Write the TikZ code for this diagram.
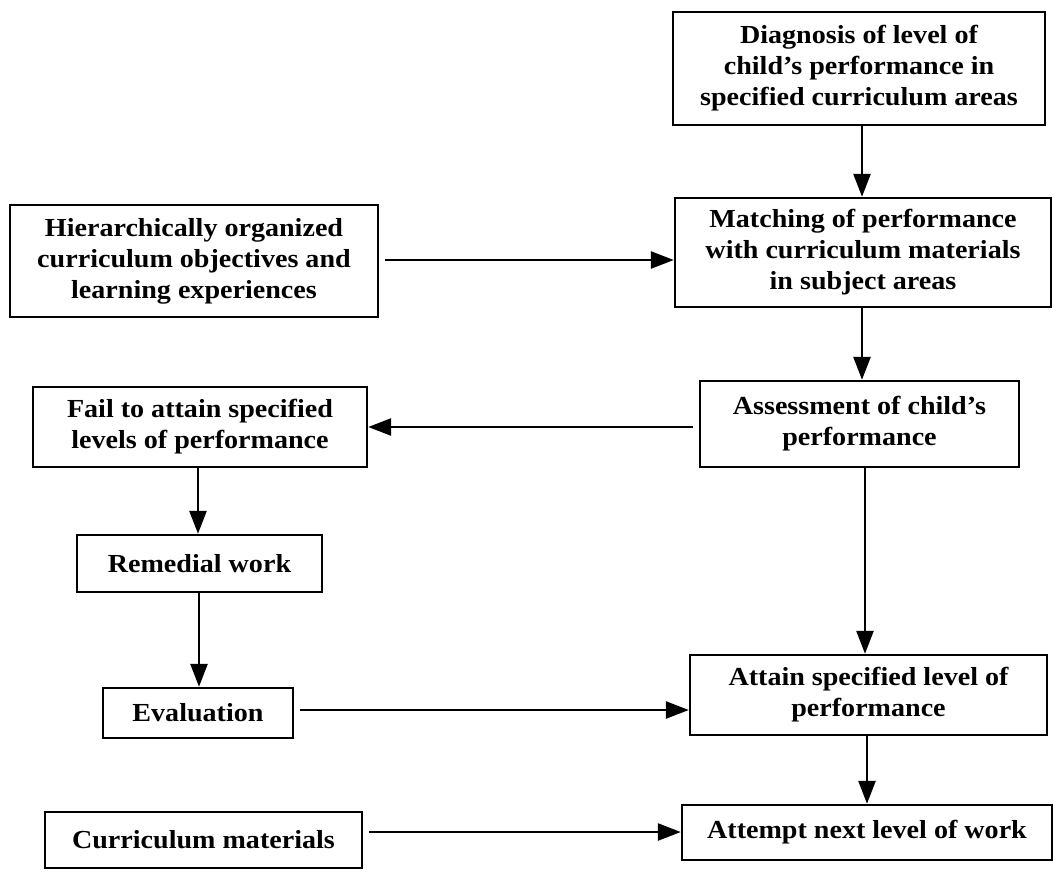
\documentclass[tikz,border=0pt]{standalone}
\usepackage{fontspec}
\setmainfont{Liberation Serif}[FakeStretch=1.08]
\usetikzlibrary{arrows.meta}
\tikzset{
  box/.style={draw, line width=2.4pt, align=center, inner sep=0pt,
    font=\fontsize{26}{31}\selectfont\bfseries},
  flow/.style={line width=2.6pt, -{Triangle[length=23pt,width=17pt]}}
}
\begin{document}
\begin{tikzpicture}[x=1pt,y=-1pt]
\useasboundingbox (0,0) rectangle (1054,871);
\node[box, minimum width=372pt, minimum height=113pt] (diag) at (859,68.5)
  {Diagnosis of level of\\child’s performance in\\specified curriculum areas};
\node[box, minimum width=376pt, minimum height=109pt] (match) at (863,252.5)
  {Matching of performance\\with curriculum materials\\in subject areas};
\node[box, minimum width=368pt, minimum height=112pt] (hier) at (194,261)
  {Hierarchically organized\\curriculum objectives and\\learning experiences};
\node[box, minimum width=334pt, minimum height=80pt] (fail) at (200,427)
  {Fail to attain specified\\levels of performance};
\node[box, minimum width=319pt, minimum height=86pt] (assess) at (859.5,424)
  {Assessment of child’s\\performance};
\node[box, minimum width=245pt, minimum height=57pt] (rem) at (199.5,563.5)
  {Remedial work};
\node[box, minimum width=190pt, minimum height=50pt] (eval) at (198,713)
  {Evaluation};
\node[box, minimum width=357pt, minimum height=80pt] (attain) at (868.5,695)
  {Attain specified level of\\performance};
\node[box, minimum width=370pt, minimum height=55pt] (attempt) at (867,832.5)
  {Attempt next level of work};
\node[box, minimum width=317pt, minimum height=56pt] (curr) at (203.5,840)
  {Curriculum materials};

\draw[flow] (diag.south -| 862,0) -- (match.north -| 862,0);
\draw[flow] ([xshift=6pt]hier.east |- 0,260) -- (match.west |- 0,260);
\draw[flow] (match.south -| 862,0) -- (assess.north -| 862,0);
\draw[flow] ([xshift=-6pt]assess.west |- 0,427) -- (fail.east |- 0,427);
\draw[flow] (assess.south -| 865,0) -- (attain.north -| 865,0);
\draw[flow] (fail.south -| 198,0) -- (rem.north -| 198,0);
\draw[flow] (rem.south -| 199,0) -- (eval.north -| 199,0);
\draw[flow] ([xshift=6pt]eval.east |- 0,710) -- (attain.west |- 0,710);
\draw[flow] (attain.south -| 867,0) -- (attempt.north -| 867,0);
\draw[flow] ([xshift=6pt]curr.east |- 0,832) -- (attempt.west |- 0,832);
\end{tikzpicture}
\end{document}
